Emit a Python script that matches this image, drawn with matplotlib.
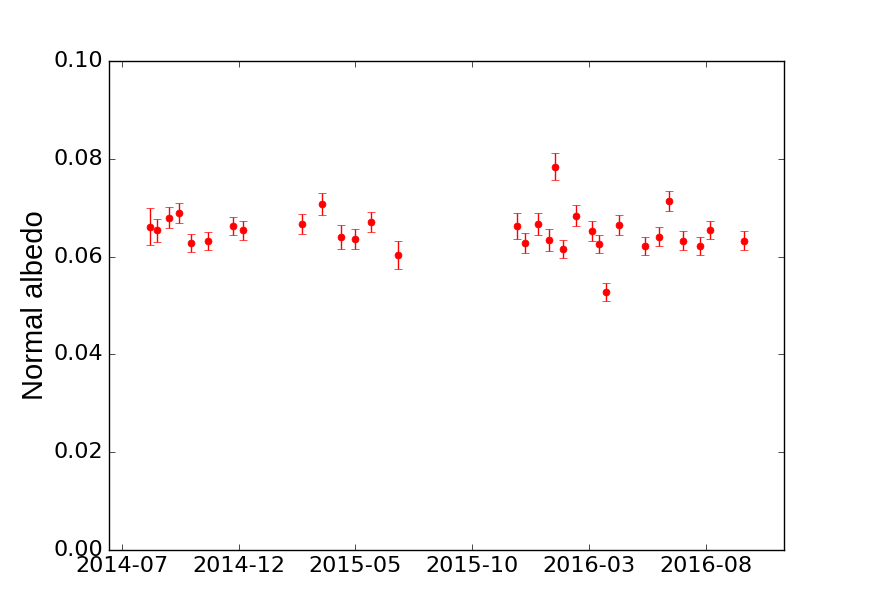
import matplotlib
matplotlib.use("Agg")
import matplotlib.pyplot as plt
import matplotlib.dates as mdates
import numpy as np
import datetime as dt

# Observation dates and normal albedo with 1-sigma errors
dates = ["2014-08-06", "2014-08-16", "2014-09-01", "2014-09-14", "2014-09-29",
         "2014-10-21", "2014-11-23", "2014-12-06", "2015-02-21", "2015-03-19",
         "2015-04-13", "2015-05-01", "2015-05-22", "2015-06-26", "2015-11-28",
         "2015-12-09", "2015-12-26", "2016-01-09", "2016-01-17", "2016-01-27",
         "2016-02-13", "2016-03-05", "2016-03-14", "2016-03-23", "2016-04-09",
         "2016-05-13", "2016-05-31", "2016-06-13", "2016-07-02", "2016-07-24",
         "2016-08-06", "2016-09-19"]
albedo = [0.0661, 0.0654, 0.0680, 0.0690, 0.0628, 0.0632, 0.0663, 0.0654,
          0.0667, 0.0708, 0.0640, 0.0636, 0.0671, 0.0603, 0.0663, 0.0628,
          0.0667, 0.0634, 0.0784, 0.0616, 0.0684, 0.0653, 0.0626, 0.0528,
          0.0665, 0.0622, 0.0641, 0.0714, 0.0633, 0.0622, 0.0655, 0.0633]
albedo_err = [0.0038, 0.0024, 0.0021, 0.0020, 0.0019, 0.0019, 0.0019, 0.0020,
              0.0021, 0.0022, 0.0024, 0.0020, 0.0021, 0.0029, 0.0026, 0.0020,
              0.0022, 0.0022, 0.0028, 0.0019, 0.0021, 0.0020, 0.0019, 0.0019,
              0.0020, 0.0018, 0.0019, 0.0021, 0.0019, 0.0018, 0.0019, 0.0019]
tick_dates = ["2014-07-01", "2014-12-01", "2015-05-01",
              "2015-10-01", "2016-03-01", "2016-08-01"]

t = [dt.datetime.strptime(d, "%Y-%m-%d") for d in dates]
ticks = [dt.datetime.strptime(d, "%Y-%m-%d") for d in tick_dates]

plt.style.use("classic")
fig = plt.figure(figsize=(8.71, 6.12), dpi=100, facecolor="white")
ax = fig.add_axes([0.125, 0.1013, 0.775, 0.7987])

ax.errorbar(t, albedo, yerr=albedo_err, fmt="o", color="red", ecolor="red",
            markeredgecolor="red", markersize=5, capsize=3, elinewidth=1)

ax.set_xlim(dt.datetime(2014, 6, 14), dt.datetime(2016, 11, 10))
ax.set_ylim(0.0, 0.1)
ax.set_xticks(ticks)
ax.xaxis.set_major_formatter(mdates.DateFormatter("%Y-%m"))
ax.set_yticks(np.arange(0, 0.101, 0.02))
ax.yaxis.set_major_formatter(matplotlib.ticker.FormatStrFormatter("%.2f"))
ax.tick_params(labelsize=16)
ax.set_ylabel("Normal albedo", fontsize=21, family="Liberation Sans", labelpad=3)

fig.savefig("out.png", dpi=100, facecolor="white")
